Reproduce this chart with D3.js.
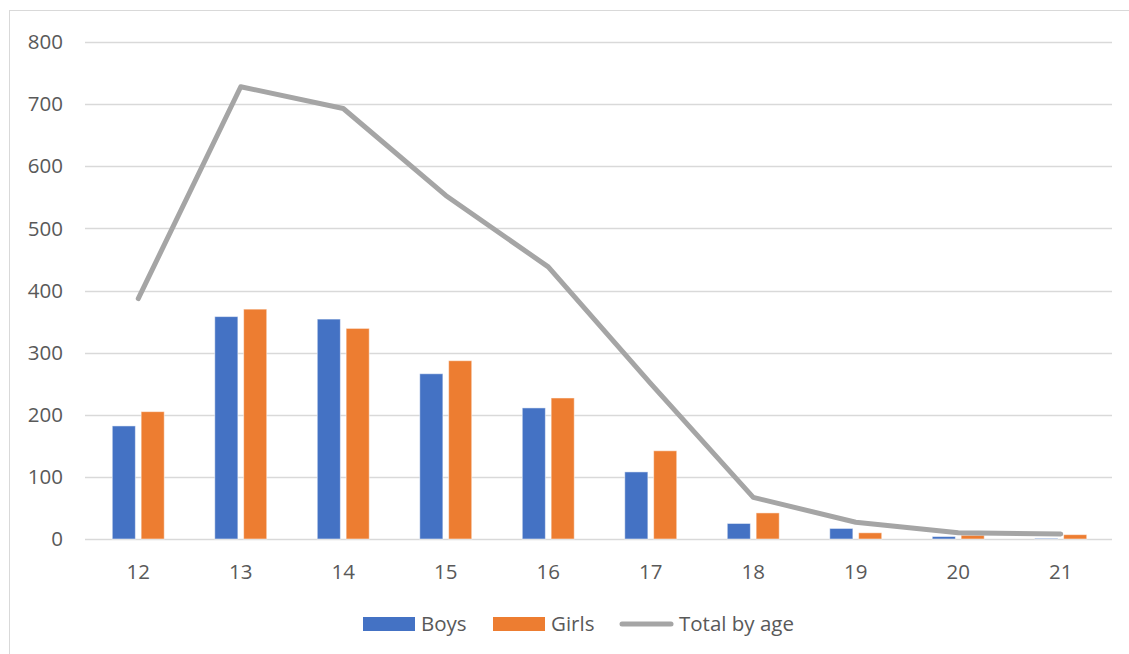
<!DOCTYPE html>
<html><head><meta charset="utf-8">
<script src="https://cdn.jsdelivr.net/npm/d3@7"></script>
<style>
html,body{margin:0;padding:0;background:#fff;}
text{font-family:"Open Sans","Noto Sans",sans-serif;fill:#595959;}
</style></head>
<body><svg id="chart" width="1129" height="654"></svg>
<script>
const categories = ["12","13","14","15","16","17","18","19","20","21"];
const boys  = [182, 358, 354, 266, 211, 108, 25, 17, 4, 1];
const girls = [205, 370, 339, 287, 227, 142, 42, 10, 6, 7];
const totals = [387, 728, 693, 553, 438, 250, 67, 27, 10, 8];
const yTicks = [0,100,200,300,400,500,600,700,800];
const seriesNames = ["Boys","Girls","Total by age"];
const colors = {Boys:"#4472C4", Girls:"#ED7D31", Total:"#A5A5A5"};
const FS = 20.5;

const svg = d3.select("#chart");
svg.append("rect").attr("x",9.5).attr("y",10.5).attr("width",1130).attr("height",660)
  .attr("fill","#fff").attr("stroke","#D9D9D9").attr("stroke-width",1);

const L=87, R=1112, T=42, B=539;
const x0 = d3.scaleBand().domain(categories).range([L,R]).paddingInner(0.493).paddingOuter(0.2465);
const x1 = d3.scaleBand().domain(["Boys","Girls"]).range([0,x0.bandwidth()]).paddingInner(0.2);
const y = d3.scaleLinear().domain([0,800]).range([B,T]);

svg.append("g").selectAll("line").data(yTicks).join("line")
  .attr("x1",85).attr("x2",R).attr("y1",d=>Math.round(y(d))+0.5).attr("y2",d=>Math.round(y(d))+0.5)
  .attr("stroke","#D9D9D9").attr("stroke-width",1.5);

svg.append("g").selectAll("text").data(yTicks).join("text")
  .attr("x",63).attr("y",d=>y(d)).attr("dy","0.35em").attr("text-anchor","end")
  .attr("font-size",FS).text(d=>d);

svg.append("g").selectAll("text").data(categories).join("text")
  .attr("x",d=>x0(d)+x0.bandwidth()/2).attr("y",572).attr("dy","0.35em").attr("text-anchor","middle")
  .attr("font-size",FS).text(d=>d);

const rows = categories.map((c,i)=>({c, Boys:boys[i], Girls:girls[i]}));
const g = svg.append("g");
rows.forEach(r=>{
  ["Boys","Girls"].forEach(k=>{
    g.append("rect").attr("x",x0(r.c)+x1(k)).attr("width",x1.bandwidth())
      .attr("y",y(r[k])).attr("height",B-y(r[k]))
      .attr("fill",colors[k]).attr("stroke","#fff").attr("stroke-opacity",0.5).attr("stroke-width",1);
  });
});

const line = d3.line().x((d,i)=>x0(categories[i])+x0.bandwidth()/2).y(d=>y(d));
svg.append("path").datum(totals).attr("d",line).attr("fill","none")
  .attr("stroke",colors.Total).attr("stroke-width",5).attr("stroke-linejoin","round").attr("stroke-linecap","round");

const lg = svg.append("g");
lg.append("rect").attr("x",363).attr("y",617).attr("width",52).attr("height",14).attr("fill",colors.Boys);
lg.append("text").attr("x",421).attr("y",624).attr("dy","0.35em").attr("font-size",FS).text(seriesNames[0]);
lg.append("rect").attr("x",493).attr("y",617).attr("width",52).attr("height",14).attr("fill",colors.Girls);
lg.append("text").attr("x",551).attr("y",624).attr("dy","0.35em").attr("font-size",FS).text(seriesNames[1]);
lg.append("line").attr("x1",622).attr("x2",671).attr("y1",624).attr("y2",624)
  .attr("stroke",colors.Total).attr("stroke-width",5).attr("stroke-linecap","round");
lg.append("text").attr("x",679).attr("y",624).attr("dy","0.35em").attr("font-size",FS).text(seriesNames[2]);
</script></body></html>
